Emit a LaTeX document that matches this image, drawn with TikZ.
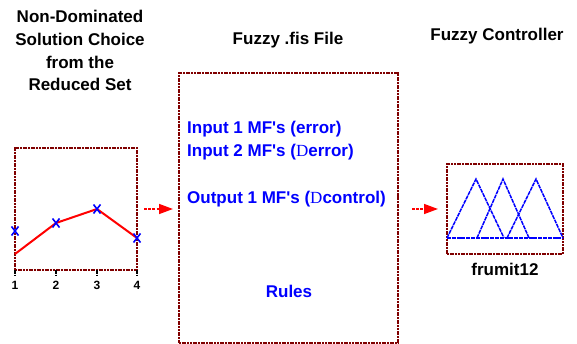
\documentclass[tikz,border=0pt]{standalone}
\usepackage{fontspec}
\setmainfont{Liberation Sans}[Ligatures=TeXOff]
\newfontfamily\deltafont{Liberation Serif}
\usetikzlibrary{arrows.meta}
\definecolor{boxred}{RGB}{128,0,0}
\tikzset{
    panel/.style={draw=boxred, line width=2pt, dash pattern=on 2pt off 0.7pt, rectangle, inner sep=0pt, outer sep=0pt},
    title/.style={font=\fontsize{17}{22.7}\selectfont\bfseries, align=center, anchor=base, inner sep=0pt},
    fistext/.style={font=\fontsize{17}{20}\selectfont\bfseries, text=blue, anchor=base west, inner sep=0pt},
    flow/.style={red, line width=1.5pt, dash pattern=on 3pt off 1.2pt, -{Triangle[length=14pt,width=10pt]}},
    mf/.style={blue, line width=1.5pt, dash pattern=on 4pt off 0.8pt},
}
\begin{document}
\begin{tikzpicture}[x=1pt, y=-1pt]
    \useasboundingbox (0,0) rectangle (577,344);
    %   Define the three panels
    \node[panel, minimum width=122pt, minimum height=122pt] (plotbox) at (76,209) {};
    \node[panel, minimum width=219pt, minimum height=270pt] (fisbox) at (288.5,208) {};
    \node[panel, minimum width=116pt, minimum height=90pt] (ctrlbox) at (505,209) {};

    %   Headings (base of a stacked title is its last line)
    \node[title] (plottitle) at (80,91) {Non-Dominated\\Solution Choice\\from the\\Reduced Set};
    \node[title] (fistitle) at (288,45) {Fuzzy .fis File};
    \node[title] (ctrltitle) at (497,41) {Fuzzy Controller};

    %   Solution plot
    \foreach \i/\x in {1/15,2/56,3/97,4/137} {
        \draw[line width=1.2pt, dash pattern=on 1.5pt off 0.8pt] (\x,270) -- (\x,276);
        \node[font=\fontsize{12}{12}\selectfont\bfseries, anchor=base, inner sep=0pt] (tick\i) at (\x,289) {\i};
    }
    \draw[red, line width=2pt] (15,254) -- (56,223) -- (97,209) -- (137,238);
    \foreach \x/\y in {15/231,56/223,97/209,137/238}
        \draw[blue, line width=1.6pt] (\x-3.5,\y-4.5) -- (\x+3.5,\y+4.5) (\x-3.5,\y+4.5) -- (\x+3.5,\y-4.5);

    %   Contents of the .fis file
    \node[fistext] (in1) at (187,134) {Input 1 MF's (error)};
    \node[fistext] (in2) at (187,157) {Input 2 MF's ({\deltafont\mdseries D}error)};
    \node[fistext] (out1) at (187,204) {Output 1 MF's ({\deltafont\mdseries D}control)};
    \node[fistext, anchor=base] (rules) at (289,297) {Rules};

    %   Membership functions of the controller
    \draw[mf] (447,238) -- (563,238);
    \foreach \a/\b/\c in {447/476/504, 477/503/529, 507/536/563}
        \draw[mf] (\a,238) -- (\b,179) -- (\c,238);
    \node[title] (ctrlname) at (505,275) {frumit12};

    %   Flow between panels
    \draw[flow, shorten <=7pt, shorten >=6pt] (plotbox.east) -- (plotbox.east -| fisbox.west);
    \draw[flow, shorten <=14pt, shorten >=9pt] (ctrlbox.west -| fisbox.east) -- (ctrlbox.west);
\end{tikzpicture}
\end{document}
